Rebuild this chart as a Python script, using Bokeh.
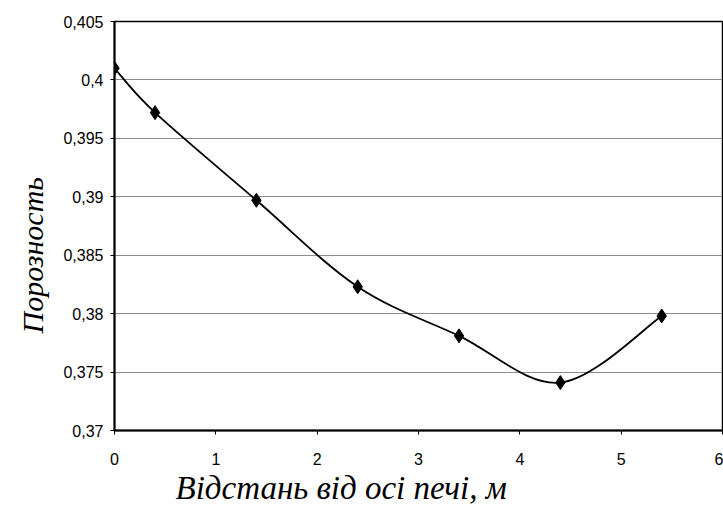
import numpy as np
from bokeh.plotting import figure
from bokeh.models import Range1d, FixedTicker, Title
from bokeh.embed import file_html
from bokeh.resources import INLINE

# ---- data ----
distance = [0.0, 0.4, 1.4, 2.4, 3.4, 4.4, 5.4]
porosity = [0.401, 0.3972, 0.3897, 0.3823, 0.3781, 0.3741, 0.3798]

x_ticks = [0, 1, 2, 3, 4, 5, 6]
y_ticks = [0.37, 0.375, 0.38, 0.385, 0.39, 0.395, 0.4, 0.405]
y_tick_labels = ["0,37", "0,375", "0,38", "0,385", "0,39", "0,395", "0,4", "0,405"]

x_title = "Відстань від осі печі, м"
y_title = "Порозность"

# ---- figure ----
p = figure(width=723, height=508, output_backend="svg", toolbar_location=None,
           x_range=Range1d(0, 6), y_range=Range1d(0.37, 0.405),
           min_border_left=114, min_border_right=1, min_border_top=21,
           min_border_bottom=78)
p.background_fill_color = "white"
p.border_fill_color = "white"
p.outline_line_color = "black"
p.outline_line_width = 1.5

p.xgrid.grid_line_color = None
p.ygrid.grid_line_color = "#8c8c8c"
p.ygrid.grid_line_width = 1

p.xaxis.ticker = FixedTicker(ticks=x_ticks)
p.yaxis.ticker = FixedTicker(ticks=y_ticks)
p.yaxis.major_label_overrides = {t: l for t, l in zip(y_ticks, y_tick_labels)}

for ax in (p.xaxis, p.yaxis):
    ax.axis_line_color = "black"
    ax.axis_line_width = 2
    ax.major_tick_line_color = "black"
    ax.major_tick_out = 4
    ax.major_tick_in = 0
    ax.minor_tick_out = 0
    ax.minor_tick_in = 0
    ax.major_label_text_font = "Liberation Sans"
    ax.major_label_text_font_size = "16px"
    ax.major_label_text_color = "black"
p.xaxis.major_label_standoff = 18
p.yaxis.major_label_standoff = 7

# smooth curve (Catmull-Rom style Bezier segments through data points)
xs = np.array(distance)
ys = np.array(porosity)
n = len(xs)
x0, y0, x1, y1, cx0, cy0, cx1, cy1 = [], [], [], [], [], [], [], []
for i in range(n - 1):
    im1 = max(i - 1, 0)
    ip2 = min(i + 2, n - 1)
    x0.append(xs[i]); y0.append(ys[i])
    x1.append(xs[i + 1]); y1.append(ys[i + 1])
    cx0.append(xs[i] + (xs[i + 1] - xs[im1]) / 6)
    cy0.append(ys[i] + (ys[i + 1] - ys[im1]) / 6)
    cx1.append(xs[i + 1] - (xs[ip2] - xs[i]) / 6)
    cy1.append(ys[i + 1] - (ys[ip2] - ys[i]) / 6)
p.bezier(x0=x0, y0=y0, x1=x1, y1=y1, cx0=cx0, cy0=cy0, cx1=cx1, cy1=cy1,
         line_color="black", line_width=1.8)

p.scatter(distance, porosity, marker="diamond", size=14,
          fill_color="black", line_color="black")

# axis titles
p.add_layout(Title(text=x_title, align="left", offset=61, standoff=0,
                   text_font="Liberation Serif", text_font_style="italic",
                   text_font_size="33px", text_color="black"), "below")
p.add_layout(Title(text=y_title, align="left", offset=97, standoff=24,
                   text_font="Liberation Serif", text_font_style="italic",
                   text_font_size="30px", text_color="black"), "left")

open("out.html", "w").write(file_html(p, INLINE))
